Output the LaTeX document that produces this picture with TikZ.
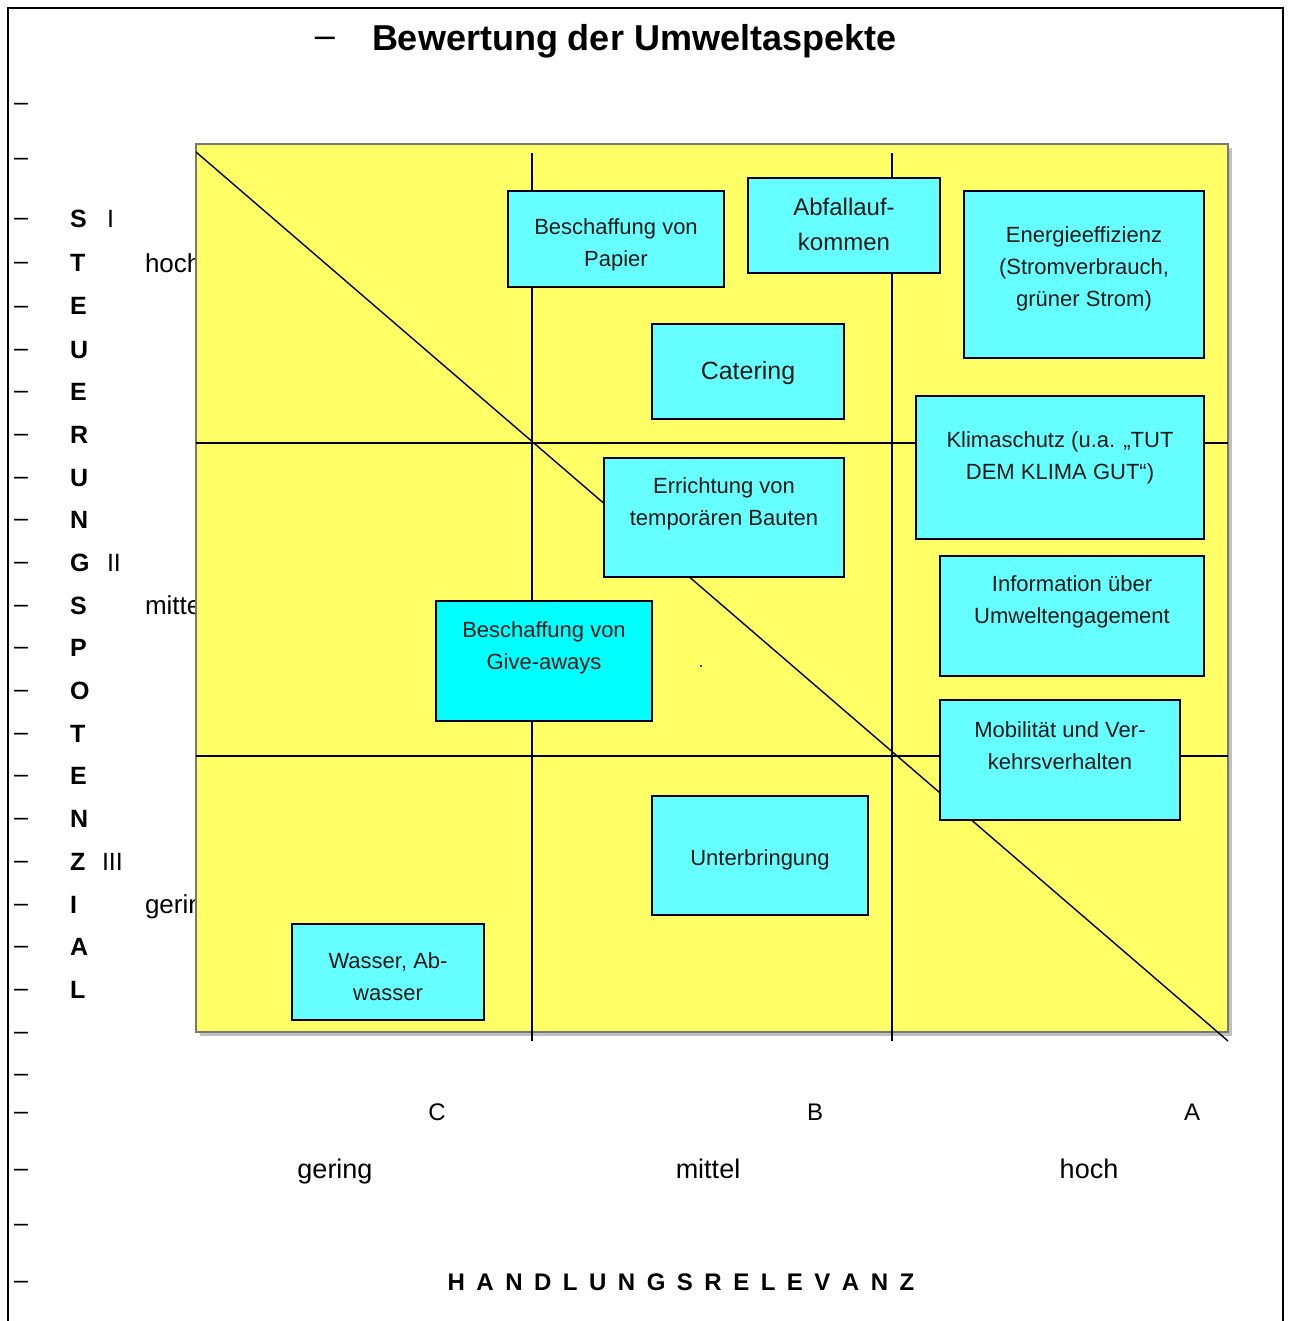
\documentclass[tikz,border=0pt]{standalone}
\usepackage{fontspec}
\setmainfont{Liberation Sans}
\definecolor{feldgelb}{HTML}{FFFF66}
\definecolor{boxcyan}{HTML}{66FFFF}
\definecolor{boxcyanb}{HTML}{00FFFF}
\definecolor{randgrau}{HTML}{777777}
\definecolor{schatten}{HTML}{C0C0C0}
\def\lsp{\hspace{11.5pt}}
\begin{document}
\begin{tikzpicture}[x=1pt,y=-1pt,
  every node/.style={inner sep=0pt,outer sep=0pt},
  strich/.style={font=\fontsize{25}{25}\selectfont,anchor=base},
  vlet/.style={font=\bfseries\fontsize{25}{25}\selectfont,anchor=base west},
  roem/.style={font=\fontsize{25}{25}\selectfont,anchor=base west},
  stufe/.style={font=\fontsize{26}{26}\selectfont,anchor=base west},
  abc/.style={font=\fontsize{24}{24}\selectfont},
  cbox/.style={draw=black,line width=1.6pt,fill=boxcyan},
  btxt/.style={font=\fontsize{22}{32}\selectfont,align=center,text=black!90},
  gline/.style={line width=1.4pt,black}
]
\useasboundingbox (0,0) rectangle (1291,1321);
% outer frame
\draw[line width=2.4pt] (8,1330) -- (8,8) -- (1283,8) -- (1283,1330);
% title
\node[font=\fontsize{36}{36}\selectfont,anchor=base] (tdash) at (325,48) {–};
\node[font=\bfseries\fontsize{36}{36}\selectfont,anchor=base west] (titel) at (372,51) {Bewertung der Umweltaspekte};
% left dashes
\foreach \yy [count=\i] in {104,159,219,263,306,349,391,434,477,519,562,605,647,690,733,775,818,861,904,946,989,1032,1074,1112,1169,1224,1281}
  \node[strich] (d\i) at (21,\yy+7) {–};
% vertical letters
\foreach \yy/\ch [count=\i] in {219/S,263/T,306/E,349/U,391/E,434/R,477/U,519/N,562/G,605/S,647/P,690/O,733/T,775/E,818/N,861/Z,904/I,946/A,989/L}
  \node[vlet] (l\i) at (70,\yy+9) {\ch};
\node[roem] (r1) at (107,228) {I};
\node[roem] (r2) at (107,571) {II};
\node[roem] (r3) at (102,870) {III};
% level labels (partly hidden behind field)
\node[stufe] (shoch) at (145,272.5) {hoch};
\node[stufe] (smittel) at (145,614.5) {mittel};
\node[stufe] (sgering) at (145,913.5) {gering};
% field with shadow
\fill[schatten] (200,148) rectangle (1232,1036);
\node[fill=feldgelb,draw=randgrau,line width=2.4pt,minimum width=1032,minimum height=888] (feld) at (712,588) {};
% grid lines
\coordinate (v1t) at (532,153); \coordinate (v1b) at (532,1041);
\coordinate (v2t) at (892,153); \coordinate (v2b) at (892,1041);
\coordinate (h1l) at (196,443); \coordinate (h1r) at (1228,443);
\coordinate (h2l) at (196,756); \coordinate (h2r) at (1228,756);
\coordinate (dgt) at (196,152); \coordinate (dgb) at (1228,1041);
\draw[gline] (v1t) -- (v1b);
\draw[gline] (v2t) -- (v2b);
\draw[gline] (h1l) -- (h1r);
\draw[gline] (h2l) -- (h2r);
\draw[gline] (dgt) -- (dgb);
\fill (701,666) circle (1.2);
% boxes
\node[cbox,minimum width=216,minimum height=96] (papier) at (616,239) {};
\node[btxt] (papiert) at (616,244.5) {Beschaffung von\\Papier};
\node[cbox,minimum width=192,minimum height=95] (abfall) at (844,225.5) {};
\node[btxt,font=\fontsize{24}{35}\selectfont] (abfallt) at (844,224.5) {Abfallauf-\\kommen};
\node[cbox,minimum width=240,minimum height=167] (energie) at (1084,274.5) {};
\node[btxt] (energiet) at (1084,268.5) {Energieeffizienz\\(Stromverbrauch,\\grüner Strom)};
\node[cbox,minimum width=192,minimum height=95] (catering) at (748,371.5) {};
\node[btxt,font=\fontsize{25}{32}\selectfont] (cateringt) at (748,373) {Catering};
\node[cbox,minimum width=288,minimum height=143] (klima) at (1060,467.5) {};
\node[btxt] (klimat) at (1060,458) {Klimaschutz (u.a. „TUT\\DEM KLIMA GUT“)};
\node[cbox,minimum width=240,minimum height=119] (bauten) at (724,517.5) {};
\node[btxt] (bautent) at (724,504) {Errichtung von\\temporären Bauten};
\node[cbox,minimum width=264,minimum height=120] (info) at (1072,616) {};
\node[btxt] (infot) at (1072,602) {Information über\\Umweltengagement};
\node[cbox,fill=boxcyanb,minimum width=216,minimum height=120] (give) at (544,661) {};
\node[btxt] (givet) at (544,648) {Beschaffung von\\Give-aways};
\node[cbox,minimum width=240,minimum height=120] (mobil) at (1060,760) {};
\node[btxt] (mobilt) at (1060,746) {Mobilität und Ver-\\kehrsverhalten};
\node[cbox,minimum width=216,minimum height=119] (unter) at (760,855.5) {};
\node[btxt] (untert) at (760,860) {Unterbringung};
\node[cbox,minimum width=192,minimum height=96] (wasser) at (388,972) {};
\node[btxt] (wassert) at (388,977) {Wasser, Ab-\\wasser};
% bottom axis labels
\node[abc] (kc) at (437,1112) {C};
\node[abc] (kb) at (815,1112) {B};
\node[abc] (ka) at (1192,1112) {A};
\node[font=\fontsize{27}{27}\selectfont,anchor=base] (bg) at (335,1178) {gering};
\node[font=\fontsize{27}{27}\selectfont,anchor=base] (bm) at (708,1178) {mittel};
\node[font=\fontsize{27}{27}\selectfont,anchor=base] (bh) at (1089,1178) {hoch};
\node[font=\bfseries\fontsize{24}{24}\selectfont,anchor=base] (hr) at (681,1290) {H\lsp A\lsp N\lsp D\lsp L\lsp U\lsp N\lsp G\lsp S\lsp R\lsp E\lsp L\lsp E\lsp V\lsp A\lsp N\lsp Z};
\end{tikzpicture}
\end{document}
